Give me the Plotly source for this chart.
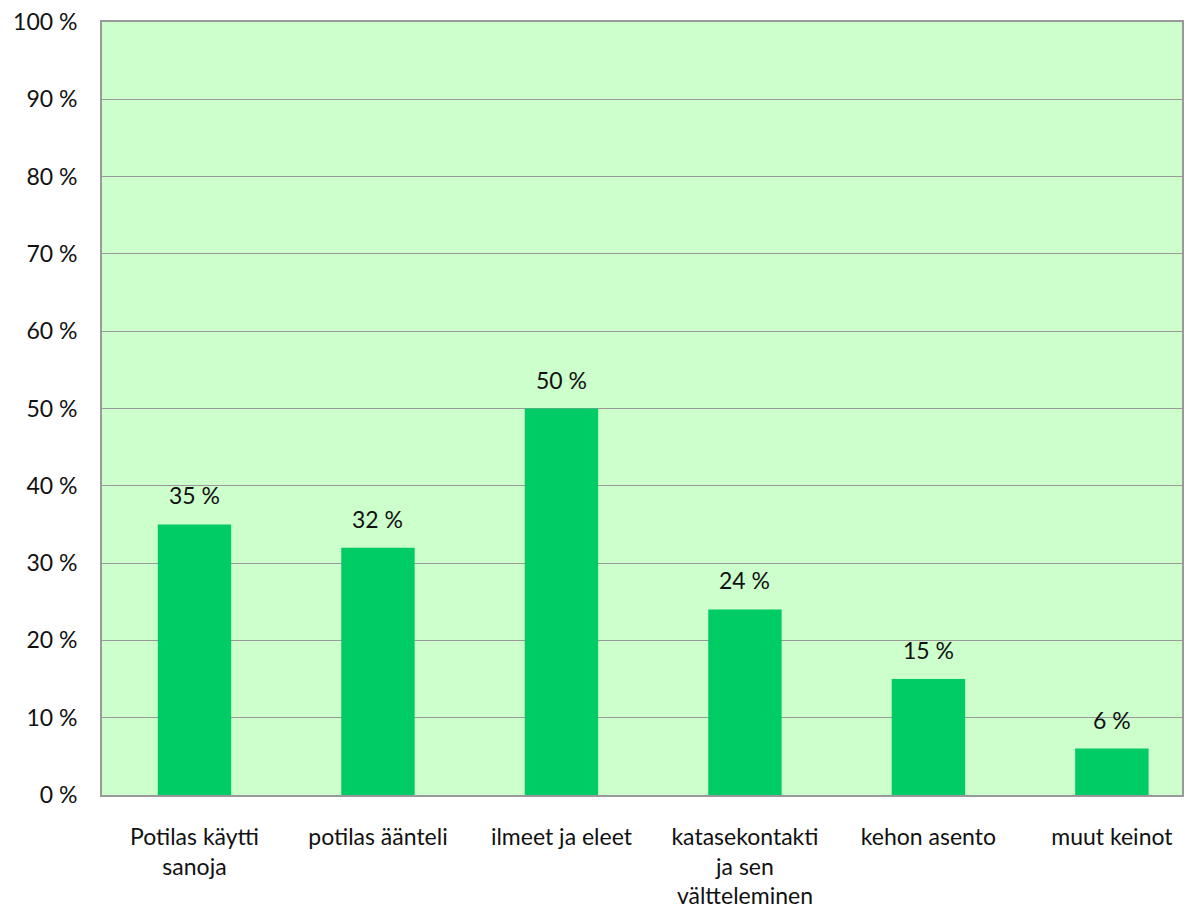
import plotly.graph_objects as go

categories = ["Potilas käytti<br>sanoja", "potilas äänteli", "ilmeet ja eleet",
              "katasekontakti<br>ja sen<br>vältteleminen", "kehon asento", "muut keinot"]
values = [35, 32, 50, 24, 15, 6]
labels = [f"{v} %" for v in values]
tick_vals = list(range(0, 101, 10))
tick_text = [f"{v} %" for v in tick_vals]

FONT = "Lato, Open Sans, sans-serif"

fig = go.Figure()
fig.add_trace(go.Bar(x=categories, y=values, marker=dict(color="#00CC66", line=dict(width=0)),
                     width=0.40, hoverinfo="skip"))

for c, v, t in zip(categories, values, labels):
    fig.add_annotation(x=c, y=v, text=t, showarrow=False, yanchor="bottom", yshift=13,
                       font=dict(family=FONT, size=23, color="#111111"))

fig.update_layout(
    width=1193, height=913,
    margin=dict(l=94, r=19, t=14, b=126),
    paper_bgcolor="#FFFFFF",
    plot_bgcolor="#CCFFCC",
    showlegend=False,
    font=dict(family=FONT, size=23, color="#111111"),
)
fig.update_xaxes(range=[-0.504, 5.382], showgrid=False, showline=True, linecolor="#999999",
                 linewidth=2, mirror=True,
                 ticks="", tickfont=dict(family=FONT, size=23), ticklabelstandoff=20,
                 automargin=False, ticklabeloverflow="allow")
fig.update_yaxes(range=[0, 100], tickvals=tick_vals, ticktext=tick_text,
                 showgrid=True, gridcolor="#999999", gridwidth=1,
                 showline=True, linecolor="#999999", linewidth=2, mirror=True,
                 ticks="", tickfont=dict(family=FONT, size=23), ticklabelstandoff=18,
                 zeroline=False, automargin=False, ticklabeloverflow="allow")

fig.write_html("out.html")
